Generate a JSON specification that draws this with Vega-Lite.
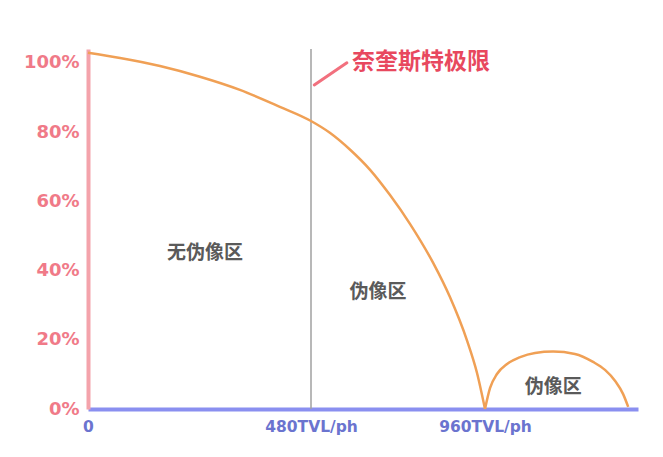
{
  "$schema": "https://vega.github.io/schema/vega-lite/v6.json",
  "width": 550,
  "height": 360,
  "autosize": {"type": "none"},
  "padding": {"left": 88, "top": 49, "right": 25, "bottom": 48},
  "background": "white",
  "config": {
    "view": {"stroke": null},
    "axis": {"grid": false, "ticks": false, "title": null}
  },
  "data": {
    "values": [
      {"kind": "curve", "x": 0, "y": 102.9},
      {"kind": "curve", "x": 69, "y": 101.4},
      {"kind": "curve", "x": 155, "y": 99.1},
      {"kind": "curve", "x": 241, "y": 96.0},
      {"kind": "curve", "x": 327, "y": 92.2},
      {"kind": "curve", "x": 413, "y": 87.3},
      {"kind": "curve", "x": 480, "y": 83.2},
      {"kind": "curve", "x": 532, "y": 79.8},
      {"kind": "curve", "x": 588, "y": 74.9},
      {"kind": "curve", "x": 643, "y": 69.1},
      {"kind": "curve", "x": 698, "y": 61.8},
      {"kind": "curve", "x": 753, "y": 53.5},
      {"kind": "curve", "x": 817, "y": 42.2},
      {"kind": "curve", "x": 863, "y": 32.4},
      {"kind": "curve", "x": 910, "y": 19.9},
      {"kind": "curve", "x": 938, "y": 10.4},
      {"kind": "curve", "x": 960, "y": 0},
      {"kind": "curve2", "x": 960, "y": 0},
      {"kind": "curve2", "x": 974, "y": 6.1},
      {"kind": "curve2", "x": 993, "y": 10.1},
      {"kind": "curve2", "x": 1021, "y": 13.0},
      {"kind": "curve2", "x": 1057, "y": 15.0},
      {"kind": "curve2", "x": 1098, "y": 16.2},
      {"kind": "curve2", "x": 1148, "y": 16.6},
      {"kind": "curve2", "x": 1208, "y": 15.9},
      {"kind": "curve2", "x": 1258, "y": 13.6},
      {"kind": "curve2", "x": 1291, "y": 11.3},
      {"kind": "curve2", "x": 1319, "y": 8.1},
      {"kind": "curve2", "x": 1341, "y": 4.3},
      {"kind": "curve2", "x": 1355, "y": 0.6},
      {"kind": "nyquist", "x": 480, "y": 0, "x2": 480, "y2": 104},
      {"kind": "arrow", "x": 489, "y": 93.6, "x2": 579, "y2": 100},
      {"kind": "note", "x": 593, "y": 100.3, "label": "奈奎斯特极限"},
      {"kind": "zone", "x": 252, "y": 45.1, "label": "无伪像区"},
      {"kind": "zone", "x": 665, "y": 33.8, "label": "伪像区"},
      {"kind": "zone", "x": 1148, "y": 6.4, "label": "伪像区"}
    ]
  },
  "encoding": {
    "x": {
      "field": "x",
      "type": "quantitative",
      "scale": {"type": "linear", "domain": [0, 480, 960, 1382], "range": [0, 223, 397, 550], "nice": false, "zero": false},
      "axis": {
        "values": [0, 480, 960],
        "labelExpr": "datum.value == 0 ? '0' : datum.value + 'TVL/ph'",
        "domainColor": "#8a8ff0",
        "domainWidth": 4,
        "labelColor": "#6b74cf",
        "labelFont": "DejaVu Sans",
        "labelFontWeight": "bold",
        "labelFontSize": 15.5,
        "labelPadding": 10,
        "labelFlush": false
      }
    },
    "y": {
      "field": "y",
      "type": "quantitative",
      "scale": {"domain": [0, 104], "nice": false, "zero": false},
      "axis": {
        "values": [0, 20, 40, 60, 80, 100],
        "labelExpr": "datum.value + '%'",
        "domainColor": "#f4a3ab",
        "domainWidth": 4,
        "labelColor": "#f07a88",
        "labelFont": "DejaVu Sans",
        "labelFontWeight": "bold",
        "labelFontSize": 18,
        "labelPadding": 9
      }
    }
  },
  "layer": [
    {
      "transform": [{"filter": "datum.kind == 'nyquist'"}],
      "mark": {"type": "rule", "color": "#a0a0a0", "strokeWidth": 1.5},
      "encoding": {"x2": {"field": "x2"}, "y2": {"field": "y2"}}
    },
    {
      "transform": [{"filter": "datum.kind == 'curve'"}],
      "mark": {"type": "line", "color": "#f0a055", "strokeWidth": 2.5, "interpolate": "monotone"},
      "encoding": {"order": {"field": "x", "type": "quantitative"}}
    },
    {
      "transform": [{"filter": "datum.kind == 'curve2'"}],
      "mark": {"type": "line", "color": "#f0a055", "strokeWidth": 2.5, "interpolate": "monotone"},
      "encoding": {"order": {"field": "x", "type": "quantitative"}}
    },
    {
      "transform": [{"filter": "datum.kind == 'arrow'"}],
      "mark": {"type": "rule", "color": "#f2707e", "strokeWidth": 3, "strokeCap": "round"},
      "encoding": {"x2": {"field": "x2"}, "y2": {"field": "y2"}}
    },
    {
      "transform": [{"filter": "datum.kind == 'note'"}],
      "mark": {"type": "text", "align": "left", "baseline": "middle", "font": "Noto Sans CJK SC", "fontWeight": "bold", "fontSize": 23, "color": "#e8485e"},
      "encoding": {"text": {"field": "label"}}
    },
    {
      "transform": [{"filter": "datum.kind == 'zone'"}],
      "mark": {"type": "text", "align": "center", "baseline": "middle", "font": "Noto Sans CJK SC", "fontWeight": "bold", "fontSize": 19, "color": "#5a5a5a"},
      "encoding": {"text": {"field": "label"}}
    }
  ]
}
